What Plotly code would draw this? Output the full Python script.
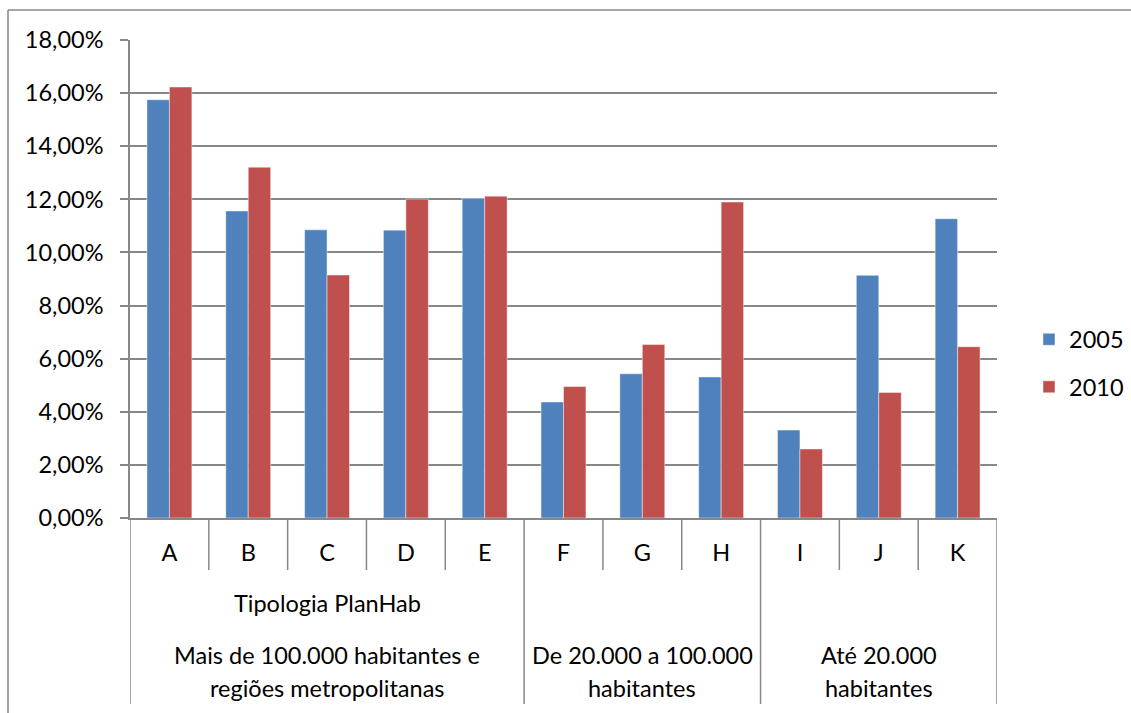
import plotly.graph_objects as go

# Share of each PlanHab typology, 2005 vs 2010
categories = ["A", "B", "C", "D", "E", "F", "G", "H", "I", "J", "K"]
values_2005 = [0.1575, 0.1156, 0.1085, 0.1084, 0.1204, 0.0437, 0.0543, 0.0531, 0.0331, 0.0914, 0.1127]
values_2010 = [0.1623, 0.1321, 0.0915, 0.1201, 0.1212, 0.0495, 0.0653, 0.1190, 0.0260, 0.0473, 0.0645]

top_label = "Tipologia PlanHab"
group_labels = [
    ["Mais de 100.000 habitantes e", "regiões metropolitanas"],
    ["De 20.000 a 100.000", "habitantes"],
    ["Até 20.000", "habitantes"],
]
group_sizes = [5, 3, 3]

y_ticks = [0.0, 0.02, 0.04, 0.06, 0.08, 0.10, 0.12, 0.14, 0.16, 0.18]

W, H = 1131, 713
M_L, M_R, M_T, M_B = 130, 134, 40, 195
plot_h = H - M_T - M_B
FONT = "Lato"
FS = 23.5
GRAY = "#878787"
BLUE = "#4F81BD"
RED = "#C0504D"


def py(px_below_axis):
    """Paper y for a pixel offset below the x axis."""
    return -px_below_axis / plot_h


fig = go.Figure()
fig.add_trace(go.Bar(
    x=categories, y=values_2005, name="2005", legendgroup="a",
    marker=dict(color=BLUE, line=dict(color="rgba(255,255,255,0.45)", width=1)),
))
fig.add_trace(go.Bar(
    x=categories, y=values_2010, name="2010", legendgroup="b",
    marker=dict(color=RED, line=dict(color="rgba(255,255,255,0.45)", width=1)),
))

shapes = []
annotations = []

# category separators below the axis: short between items, long between groups
bounds = [0]
for s in group_sizes:
    bounds.append(bounds[-1] + s)
long_edges = set(bounds)
for i in range(len(categories) + 1):
    depth = 186 if i in long_edges else 52
    shapes.append(dict(type="line", xref="x", yref="paper",
                       x0=i - 0.5, x1=i - 0.5, y0=0, y1=py(depth),
                       line=dict(color=GRAY, width=1.5)))

# group captions
for g, lines in enumerate(group_labels):
    center = (bounds[g] + bounds[g + 1] - 1) / 2
    for k, txt in enumerate(lines):
        annotations.append(dict(text=txt, xref="x", yref="paper", x=center,
                                y=py(137 + 33 * k), showarrow=False,
                                xanchor="center", yanchor="middle",
                                font=dict(family=FONT, size=FS, color="black")))
annotations.append(dict(text=top_label, xref="x", yref="paper",
                        x=(bounds[0] + bounds[1] - 1) / 2, y=py(85),
                        showarrow=False, xanchor="center", yanchor="middle",
                        font=dict(family=FONT, size=FS, color="black")))

# outer chart frame (left and top edges)
frame_x = (8 - M_L) / (W - M_L - M_R)
frame_y = 1 + (M_T - 10) / plot_h
shapes.append(dict(type="line", xref="paper", yref="paper", x0=frame_x, x1=frame_x,
                   y0=frame_y, y1=-0.5, line=dict(color=GRAY, width=1.5)))
shapes.append(dict(type="line", xref="paper", yref="paper", x0=frame_x, x1=1.3,
                   y0=frame_y, y1=frame_y, line=dict(color=GRAY, width=1.5)))

fig.update_layout(
    width=W, height=H,
    margin=dict(l=M_L, r=M_R, t=M_T, b=M_B, autoexpand=False),
    paper_bgcolor="white", plot_bgcolor="white",
    separators=",.",
    barmode="group", bargap=0.43, bargroupgap=0,
    font=dict(family=FONT, size=FS, color="black"),
    shapes=shapes, annotations=annotations,
    legend=dict(x=(1029 - M_L) / (W - M_L - M_R), y=(H - M_B - 363.5) / plot_h,
                xanchor="left", yanchor="middle", tracegroupgap=14,
                font=dict(family=FONT, size=FS, color="black"),
                bgcolor="rgba(0,0,0,0)"),
    hovermode=False,
)
fig.update_xaxes(
    range=[-0.5, len(categories) - 0.5], showgrid=False,
    showline=True, linecolor=GRAY, linewidth=1.5,
    ticks="", ticklabelstandoff=13, tickfont=dict(family=FONT, size=FS),
    automargin=False,
)
fig.update_yaxes(
    range=[0, 0.18], tickvals=y_ticks, tickformat=".2%",
    showgrid=True, gridcolor=GRAY, gridwidth=1.5,
    showline=True, linecolor=GRAY, linewidth=1.5,
    ticks="outside", ticklen=8, tickcolor=GRAY, tickwidth=1.5,
    ticklabelstandoff=12, tickfont=dict(family=FONT, size=FS),
    zeroline=False, automargin=False,
)

fig.write_html("out.html")
